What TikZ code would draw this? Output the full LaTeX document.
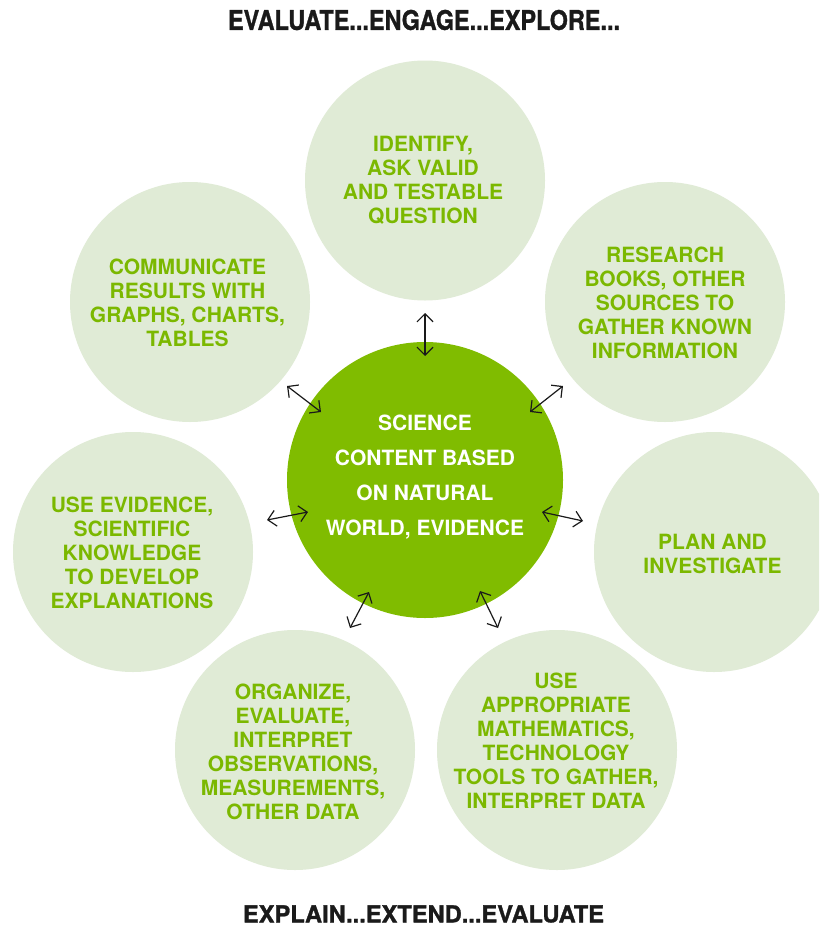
\documentclass[tikz,border=0pt]{standalone}
\usepackage{fontspec}
\usepackage{graphicx}
\setmainfont{TeX Gyre Heros}
\newfontfamily\heavyfont[FakeBold=1.2]{TeX Gyre Heros}
\usetikzlibrary{arrows.meta}
\definecolor{bubble}{HTML}{E0EBD6}
\definecolor{leaf}{HTML}{80BC00}
\definecolor{leaftext}{HTML}{7BB800}
\definecolor{ink}{HTML}{1A1A1A}
\begin{document}
\begin{tikzpicture}[x=1pt,y=-1pt,
  bub/.style={circle,fill=bubble,minimum size=240pt,inner sep=0pt},
  hub/.style={circle,fill=leaf,minimum size=276pt,inner sep=0pt},
  btxt/.style={align=center,inner sep=0pt,text=leaftext,font=\bfseries\fontsize{21}{24}\selectfont},
  htxt/.style={align=center,inner sep=0pt,text=white,font=\bfseries\fontsize{21}{35}\selectfont},
  link/.style={draw=ink,line width=1.2pt,{Straight Barb[length=8pt,width=16pt]}-{Straight Barb[length=8pt,width=16pt]}},
  headline/.style={inner sep=0pt,text=ink,font=\heavyfont\bfseries}]
\useasboundingbox (0,0) rectangle (819,926);
\clip (0,0) rectangle (819,926);
\fill[white] (0,0) rectangle (819,926);

% titles
\node[headline] (top) at (424,20) {\resizebox{392pt}{20pt}{EVALUATE...ENGAGE...EXPLORE...}};
\node[headline] (bottom) at (423.5,914) {\resizebox{361pt}{17pt}{EXPLAIN...EXTEND...EVALUATE}};

% outer circles
\node[bub] (q) at (425,180.5) {};
\node[bub] (r) at (665,302) {};
\node[bub] (p) at (714,552) {};
\node[bub] (m) at (557,750) {};
\node[bub] (o) at (295,750) {};
\node[bub] (e) at (133,552) {};
\node[bub] (c) at (190,302) {};

% centre
\node[hub] (hub) at (425,480) {};

% texts
\node[btxt] (qt) at (423,180) {IDENTIFY,\\ASK VALID\\AND TESTABLE\\QUESTION};
\node[btxt] (rt) at (665,302.5) {RESEARCH\\BOOKS, OTHER\\SOURCES TO\\GATHER KNOWN\\INFORMATION};
\node[btxt] (pt) at (712.5,553.5) {PLAN AND\\INVESTIGATE};
\node[btxt] (mt) at (556,740.5) {USE\\APPROPRIATE\\MATHEMATICS,\\TECHNOLOGY\\TOOLS TO GATHER,\\INTERPRET DATA};
\node[btxt] (ot) at (293,752) {ORGANIZE,\\EVALUATE,\\INTERPRET\\OBSERVATIONS,\\MEASUREMENTS,\\OTHER DATA};
\node[btxt] (et) at (132,553) {USE EVIDENCE,\\SCIENTIFIC\\KNOWLEDGE\\TO DEVELOP\\EXPLANATIONS};
\node[btxt] (ct) at (187.5,302.5) {COMMUNICATE\\RESULTS WITH\\GRAPHS, CHARTS,\\TABLES};
\node[htxt] (ht) at (425,477) {SCIENCE\\CONTENT BASED\\ON NATURAL\\WORLD, EVIDENCE};

% arrow ends
\coordinate (q1) at (425,313);   \coordinate (q2) at (425,356);
\coordinate (r1) at (563,386);   \coordinate (r2) at (530,412);
\coordinate (p1) at (583,521);   \coordinate (p2) at (542,512);
\coordinate (m1) at (498,628);   \coordinate (m2) at (480,591);
\coordinate (o1) at (350,628);   \coordinate (o2) at (369,592);
\coordinate (e1) at (267,520);   \coordinate (e2) at (308,512);
\coordinate (c1) at (287,386);   \coordinate (c2) at (321,412);

\draw[link] (q1) -- (q2);
\draw[link] (r1) -- (r2);
\draw[link] (p1) -- (p2);
\draw[link] (m1) -- (m2);
\draw[link] (o1) -- (o2);
\draw[link] (e1) -- (e2);
\draw[link] (c1) -- (c2);
\end{tikzpicture}
\end{document}
